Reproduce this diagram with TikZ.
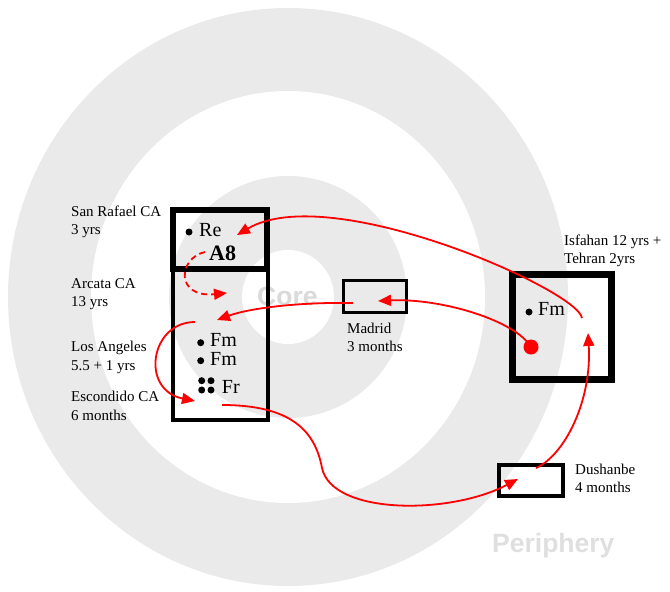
\documentclass[tikz,border=0pt]{standalone}
\usepackage{fontspec}
\setmainfont{Liberation Serif}
\setsansfont{Liberation Sans}
\usetikzlibrary{arrows.meta, positioning}
\definecolor{ringgray}{RGB}{234,234,234}
\definecolor{wordgray}{RGB}{218,218,218}
\tikzset{
	cellbox/.style={draw, line width=#1, inner sep=0pt},
	cityname/.style={anchor=base west, align=left, inner sep=0pt, font=\fontsize{15}{18.5}\selectfont},
	cellword/.style={anchor=base west, inner sep=0pt, font=\fontsize{20}{24}\selectfont},
	ringword/.style={anchor=base west, inner sep=0pt, text=wordgray, font=\sffamily\bfseries\fontsize{26.5}{30}\selectfont},
	movearr/.style={-{Triangle[length=13pt, width=11pt]}, red, line width=1.8pt},
}

\begin{document}
\begin{tikzpicture}[x=1pt, y=-1pt]
	\useasboundingbox (0,0) rectangle (670,592);
	% Rings
	\fill[ringgray] (288,297) ellipse [x radius=280, y radius=289];
	\fill[white] (288,297) ellipse [x radius=197, y radius=206];
	\fill[ringgray] (288,297) ellipse [x radius=119, y radius=121];
	\fill[white] (288,297) ellipse [x radius=46, y radius=47];
	\node[ringword] (core) at (257,305) {Core};
	\node[ringword, text=gray!25] (periphery) at (492,552) {Periphery};
	% Boxes
	\node[cellbox=3.5pt, minimum width=95pt, minimum height=150pt] (lowerbox) at (220.5,345) {};
	\node[cellbox=6pt, minimum width=94pt, minimum height=59pt] (sanrafael) at (220,239.5) {};
	\node[cellbox=3pt, minimum width=63pt, minimum height=32pt] (madrid) at (375,296.5) {};
	\node[cellbox=7pt, minimum width=99pt, minimum height=105pt] (isfahan) at (562,327) {};
	\node[cellbox=3.5pt, minimum width=64pt, minimum height=31pt] (dushanbe) at (531,480.5) {};
	% Place labels (base = last line)
	\node[cityname] (lblsanrafael) at (71,234.5) {San Rafael CA\\3 yrs};
	\node[cityname] (lblarcata) at (71,306.5) {Arcata CA\\13 yrs};
	\node[cityname] (lbllosangeles) at (71,370.2) {Los Angeles\\5.5 + 1 yrs};
	\node[cityname] (lblescondido) at (71,420.2) {Escondido CA\\6 months};
	\node[cityname] (lblmadrid) at (347,351.5) {Madrid\\3 months};
	\node[cityname] (lblisfahan) at (564,263.5) {Isfahan 12 yrs +\\Tehran 2yrs};
	\node[cityname] (lbldushanbe) at (575,492.5) {Dushanbe\\4 months};
	% Box contents
	\fill (189,232) circle (3.5);
	\node[cellword] (re) at (199,236) {Re};
	\node[cellword, font=\bfseries\fontsize{22}{26}\selectfont] (aeight) at (209,260) {A8};
	\fill (200.7,342.7) circle (3.5);
	\node[cellword] (fmone) at (210,346.7) {Fm};
	\fill (200.7,360.7) circle (3.5);
	\node[cellword] (fmtwo) at (210,365) {Fm};
	\foreach \dx/\dy in {201.7/380.7, 211/380.7, 201.7/390, 211/390}
		\fill (\dx,\dy) circle (3.5);
	\node[cellword] (fr) at (221.7,393) {Fr};
	\fill (529,312) circle (3.5);
	\node[cellword] (fmisf) at (538,315) {Fm};
	\node[circle, fill=red, minimum size=15pt, inner sep=0pt] (isfdot) at (531,347) {};
	% Arrow ends
	\coordinate (isfout) at (582,318);
	\coordinate (sanin) at (237,235);
	\coordinate (aeightout) at (205,252);
	\coordinate (arcatain) at (227,293);
	\coordinate (madridin) at (378,301);
	\coordinate (madridout) at (353,303);
	\coordinate (lain) at (217,320);
	\coordinate (laout) at (195,322);
	\coordinate (escin) at (195,401);
	\coordinate (escout) at (222,405);
	\coordinate (dushin) at (518,479);
	\coordinate (dushout) at (536,468);
	\coordinate (isfin) at (588,333);
	% Moves
	\draw[movearr] (isfout) .. controls (578,290) and (330,180) .. (sanin);
	\draw[movearr, dash pattern=on 6pt off 4pt] (aeightout) .. controls (178,258) and (175,298) .. (arcatain);
	\draw[movearr] (isfdot.center) .. controls (515,320) and (440,298) .. (madridin);
	\draw[movearr] (madridout) .. controls (300,302) and (250,308) .. (lain);
	\draw[movearr] (laout) .. controls (150,322) and (140,390) .. (escin);
	\draw[movearr] (escout) .. controls (290,405) and (315,430) .. (322,468) .. controls (332,515) and (450,515) .. (dushin);
	\draw[movearr] (dushout) .. controls (565,455) and (592,400) .. (isfin);
\end{tikzpicture}
\end{document}
